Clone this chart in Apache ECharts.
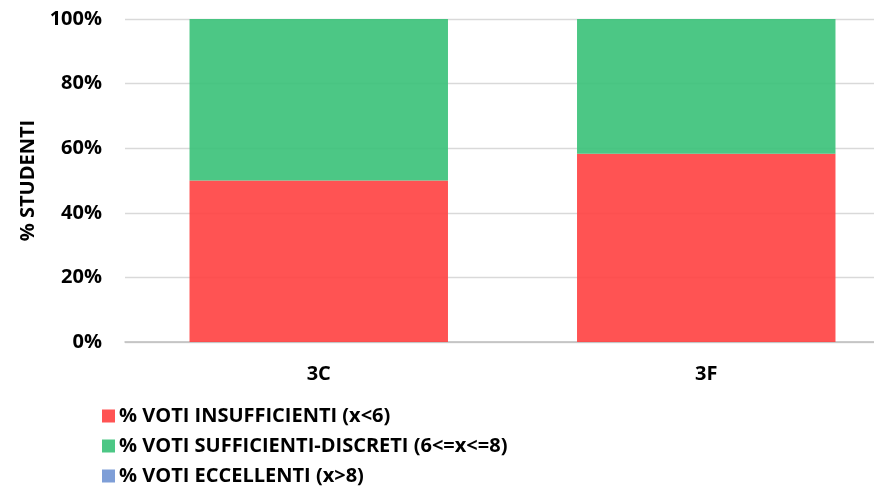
<!DOCTYPE html>
<html>
<head>
<meta charset="utf-8">
<script src="https://cdn.jsdelivr.net/npm/echarts@6/dist/echarts.min.js"></script>
<style>
html,body{margin:0;padding:0;background:#fff;overflow:hidden;}
#chart{width:874px;height:487px;}
</style>
</head>
<body>
<div id="chart"></div>
<script>
const categories = ['3C', '3F'];
const seriesNames = ['% VOTI INSUFFICIENTI (x<6)', '% VOTI SUFFICIENTI-DISCRETI (6<=x<=8)', '% VOTI ECCELLENTI (x>8)'];
const insufficienti = [50, 58.3];
const sufficienti = [50, 41.7];
const eccellenti = [0, 0];
const yTicks = [0, 20, 40, 60, 80, 100];

const colors = ['#FF4444', '#3DC27B', '#7396D4'];
const font = '"Open Sans", "Liberation Sans", sans-serif';
const fs = 20;
const chart = echarts.init(document.getElementById('chart'));
const mk = (name, data, i) => ({
  name, type: 'bar', stack: 'tot', data,
  barWidth: '66.7%',
  itemStyle: { color: colors[i], opacity: 0.92 },
  z: 1
});
chart.setOption({
  animation: false,
  textStyle: { fontFamily: font },
  grid: { left: 125, right: -26, top: 19, bottom: 145, outerBoundsMode: 'none', containLabel: false },
  legend: {
    orient: 'vertical', left: 97, top: 400, height: 90,
    itemWidth: 13, itemHeight: 13, itemGap: 8,
    icon: 'rect',
    data: seriesNames,
    textStyle: { fontFamily: font, fontWeight: 'bold', fontSize: fs, color: '#000', lineHeight: 22, padding: [0,0,0,-1] }
  },
  xAxis: {
    type: 'category', data: categories,
    axisLine: { lineStyle: { color: '#BFBFBF', width: 1.5 } },
    axisTick: { show: false },
    axisLabel: { fontFamily: font, fontWeight: 'bold', fontSize: fs, color: '#000', margin: 22 }
  },
  yAxis: {
    type: 'value', min: yTicks[0], max: yTicks[yTicks.length-1], interval: 20,
    name: '% STUDENTI', nameLocation: 'middle', nameGap: 87, nameRotate: 90,
    nameTextStyle: { fontFamily: font, fontWeight: 'bold', fontSize: fs, color: '#000' },
    axisLine: { show: false }, axisTick: { show: false },
    splitLine: { show: true, lineStyle: { color: '#D9D9D9', width: 1.3 } },
    axisLabel: { formatter: '{value}%', fontFamily: font, fontWeight: 'bold', fontSize: fs, color: '#000', margin: 23 }
  },
  series: [mk(seriesNames[0], insufficienti, 0), mk(seriesNames[1], sufficienti, 1), mk(seriesNames[2], eccellenti, 2)]
});
</script>
</body>
</html>
